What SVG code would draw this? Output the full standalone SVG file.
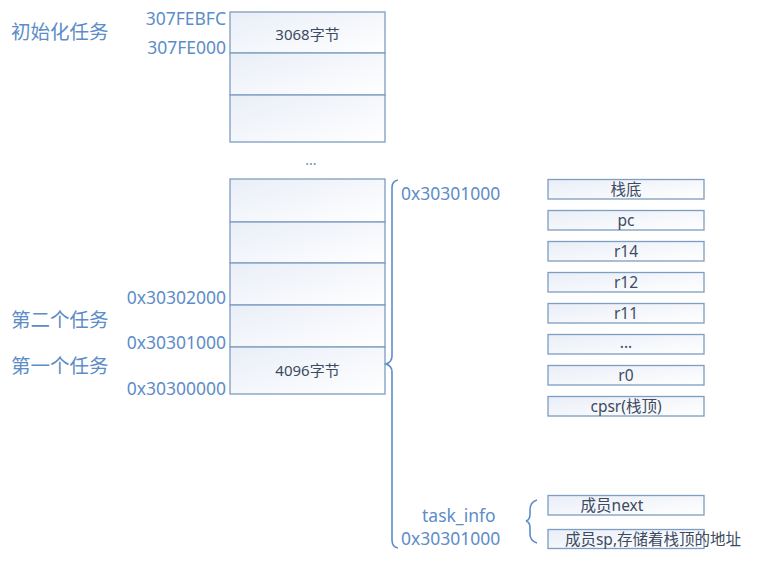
<svg xmlns="http://www.w3.org/2000/svg" width="757" height="561" viewBox="0 0 757 561">
<defs>
<linearGradient id="g" x1="0" y1="0" x2="1" y2="1">
<stop offset="0" stop-color="#e9eef7"/>
<stop offset="1" stop-color="#ffffff"/>
</linearGradient>
<style>
.box{fill:url(#g);stroke:#7d9dc1;stroke-width:1.3}
.lbl{font-family:"Noto Sans","Noto Sans CJK SC",sans-serif;fill:#5d8dc8}
.big{font-size:19.5px}
.addr{font-size:17.5px}
.in{font-family:"Noto Sans","Noto Sans CJK SC",sans-serif;fill:#3d4b60;font-size:15px;text-anchor:middle}
.in2{font-family:"Noto Sans","Noto Sans CJK SC",sans-serif;fill:#3d4b60;font-size:15.5px;text-anchor:middle}
.br{fill:none;stroke:#5d8dc8;stroke-width:1.6}
</style>
</defs>
<rect width="757" height="561" fill="#ffffff"/>

<g id="init-stack">
<rect class="box" x="230" y="12" width="155" height="41"/>
<rect class="box" x="230" y="53" width="155" height="42"/>
<rect class="box" x="230" y="95" width="155" height="47"/>
<text class="in" x="307.5" y="40">3068字节</text>
</g>
<g id="labels-top">
<text class="lbl big" x="11" y="39">初始化任务</text>
<text class="lbl addr" x="226" y="25" text-anchor="end">307FEBFC</text>
<text class="lbl addr" x="226" y="54" text-anchor="end">307FE000</text>
<text class="lbl" x="311" y="165" font-size="14" text-anchor="middle">...</text>
</g>

<g id="task-stack">
<rect class="box" x="230" y="179" width="155" height="43"/>
<rect class="box" x="230" y="222" width="155" height="41"/>
<rect class="box" x="230" y="263" width="155" height="42"/>
<rect class="box" x="230" y="305" width="155" height="42"/>
<rect class="box" x="230" y="347" width="155" height="47"/>
<text class="in" x="307.5" y="376">4096字节</text>
</g>
<g id="labels-tasks">
<text class="lbl addr" x="226" y="304" text-anchor="end">0x30302000</text>
<text class="lbl big" x="11" y="327">第二个任务</text>
<text class="lbl addr" x="226" y="349" text-anchor="end">0x30301000</text>
<text class="lbl big" x="11" y="373">第一个任务</text>
<text class="lbl addr" x="226" y="395" text-anchor="end">0x30300000</text>
</g>

<g id="connectors">
<path class="br" d="M398,180 Q392,181 392,188 L392,356 Q392,362 386,364 Q392,366 392,372 L392,540 Q392,547 398,548"/>
<path class="br" d="M537,500 Q530,502 530,510 L530,514 Q530,520 526,521 Q530,522 530,528 L530,534 Q530,541 537,543"/>
</g>

<g id="addr-labels-right">
<text class="lbl addr" x="401" y="200">0x30301000</text>
<text class="lbl addr" x="422" y="522">task_info</text>
<text class="lbl addr" x="401" y="545">0x30301000</text>
</g>

<g id="stack-frame">
<rect class="box" x="548" y="179.5" width="156" height="19.5"/>
<text class="in2" x="626" y="194.5">栈底</text>
<rect class="box" x="548" y="210.5" width="156" height="19.5"/>
<text class="in2" x="626" y="225.5">pc</text>
<rect class="box" x="548" y="241.5" width="156" height="19.5"/>
<text class="in2" x="626" y="256.5">r14</text>
<rect class="box" x="548" y="272.5" width="156" height="19.5"/>
<text class="in2" x="626" y="287.5">r12</text>
<rect class="box" x="548" y="303.5" width="156" height="19.5"/>
<text class="in2" x="626" y="318.5">r11</text>
<rect class="box" x="548" y="334.5" width="156" height="19.5"/>
<text class="in2" x="626" y="348">...</text>
<rect class="box" x="548" y="365.5" width="156" height="19.5"/>
<text class="in2" x="626" y="380.5">r0</text>
<rect class="box" x="548" y="396.5" width="156" height="19.5"/>
<text class="in2" x="626" y="411.5">cpsr(栈顶)</text>
</g>

<g id="task-info">
<rect class="box" x="548" y="495.5" width="156" height="19.5"/>
<text class="in2" x="612" y="510.5">成员next</text>
<rect class="box" x="548" y="529.5" width="156" height="19"/>
<text class="in2" x="653" y="545">成员sp,存储着栈顶的地址</text>
</g>
</svg>
